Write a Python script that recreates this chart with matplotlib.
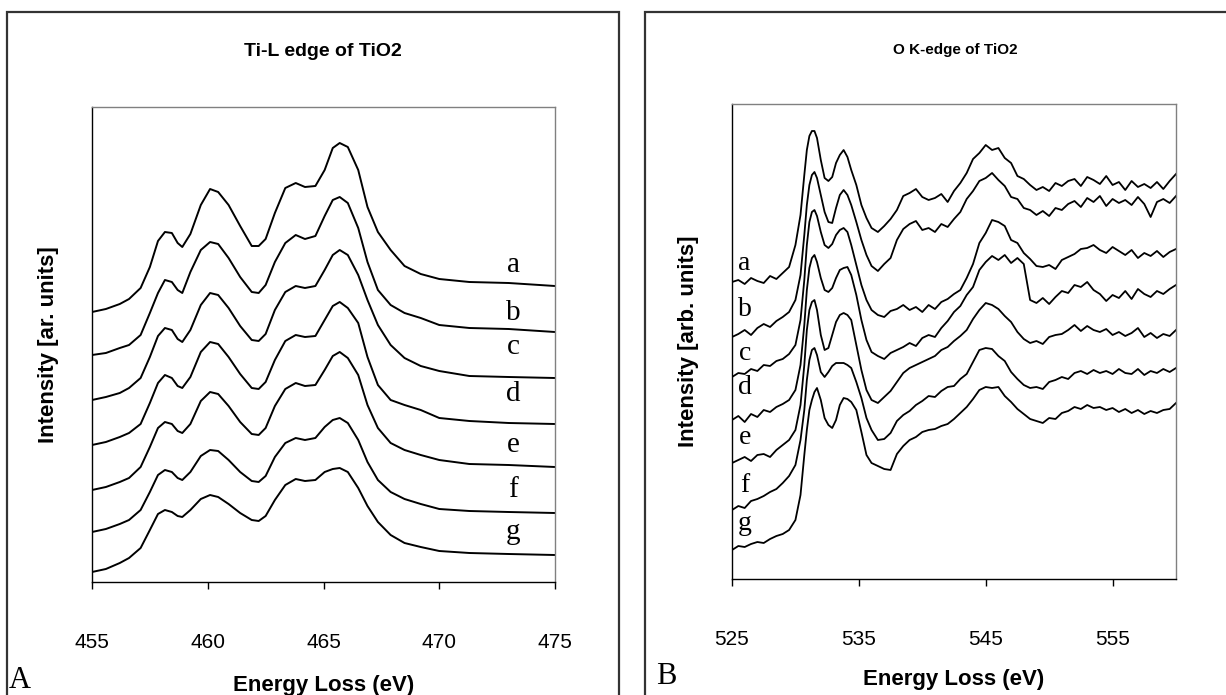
import numpy as np
import matplotlib
matplotlib.use("Agg")
import matplotlib.pyplot as plt
from matplotlib.patches import Rectangle

# ---- Ti-L edge (panel A) ----
ti_energy = [455.0, 455.6, 456.2, 456.6, 457.1, 457.5, 457.85, 458.15, 458.45, 458.7,
             458.9, 459.25, 459.7, 460.1, 460.45, 460.9, 461.4, 461.9, 462.2, 462.5,
             462.9, 463.35, 463.8, 464.2, 464.65, 465.05, 465.4, 465.7, 466.05, 466.5,
             466.9, 467.35, 467.9, 468.5, 469.2, 470.0, 471.3, 473.0, 475.0]

ti_a = [288, 291, 296, 301, 312, 333, 359, 368, 367, 357, 353, 366, 395, 411, 408, 395, 374, 354, 354, 361,
        387, 412, 417, 413, 414, 430, 452, 457, 453, 430, 393, 368, 350, 334, 326, 321, 318, 317, 314]
ti_b = [245, 247, 252, 255, 265, 287, 307, 320, 318, 310, 307, 328, 350, 358, 356, 342, 323, 308, 307, 315,
        338, 357, 365, 361, 364, 384, 400, 403, 397, 372, 338, 310, 295, 287, 282, 275, 272, 271, 268]
ti_c = [200, 203, 207, 212, 222, 243, 264, 272, 270, 261, 258, 270, 295, 307, 305, 292, 274, 260, 259, 266,
        290, 308, 314, 312, 314, 330, 345, 350, 345, 325, 300, 275, 255, 242, 234, 229, 224, 223, 222]
ti_d = [155, 158, 163, 167, 176, 197, 217, 225, 222, 214, 212, 223, 248, 258, 256, 243, 226, 212, 211, 218,
        240, 259, 265, 263, 264, 280, 294, 298, 292, 277, 243, 215, 200, 195, 190, 182, 179, 177, 176]
ti_e = [110, 113, 118, 122, 133, 153, 172, 178, 176, 169, 167, 176, 199, 208, 206, 194, 178, 166, 165, 172,
        194, 211, 217, 214, 215, 230, 244, 248, 242, 225, 195, 172, 157, 150, 145, 140, 136, 135, 133]
ti_f = [68, 71, 76, 80, 90, 108, 125, 130, 128, 122, 120, 128, 144, 150, 149, 140, 128, 119, 118, 124,
        143, 157, 162, 160, 162, 173, 180, 182, 177, 160, 138, 120, 108, 101, 96, 91, 89, 88, 87]
ti_g = [28, 31, 37, 42, 52, 70, 86, 90, 88, 84, 83, 90, 101, 105, 103, 96, 87, 80, 79, 84,
        100, 115, 121, 119, 120, 128, 131, 132, 128, 112, 94, 78, 65, 57, 53, 49, 47, 46, 45]

ti_curves = [ti_a, ti_b, ti_c, ti_d, ti_e, ti_f, ti_g]
curve_names = ["a", "b", "c", "d", "e", "f", "g"]
ti_label_y = [335, 287, 253, 206, 155, 110, 68]

# ---- O K-edge (panel B) ----
o_energy = [525.0, 525.5, 526.0, 526.5, 527.0, 527.5, 528.0, 528.5, 529.0, 529.5,
            530.0, 530.4, 530.7, 530.9, 531.1, 531.3, 531.5, 531.7, 532.0, 532.3,
            532.6, 532.9, 533.2, 533.5, 533.8, 534.1, 534.4, 534.8, 535.2, 535.6,
            536.0, 536.5, 537.0, 537.5, 538.0, 538.5, 539.0, 539.5, 540.0, 540.5,
            541.0, 541.5, 542.0, 542.5, 543.0, 543.5, 544.0, 544.5, 545.0, 545.5,
            546.0, 546.5, 547.0, 547.5, 548.0, 548.5, 549.0, 549.5, 550.0, 550.5,
            551.0, 551.5, 552.0, 552.5, 553.0, 553.5, 554.0, 554.5, 555.0, 555.5,
            556.0, 556.5, 557.0, 557.5, 558.0, 558.5, 559.0, 559.5, 560.0]

o_a = [318, 320, 316, 322, 319, 317, 324, 321, 327, 333,
       355, 385, 425, 450, 464, 469, 469, 462, 440, 422, 419, 423, 437, 445, 450, 443, 430, 415, 395, 382,
       372, 368, 374, 381, 390, 404, 407, 411, 403, 400, 402, 406, 398, 409, 417, 427, 441, 447, 455, 450,
       452, 442, 437, 424, 421, 415, 410, 413, 409, 417, 414, 419, 421, 414, 423, 420, 416, 424, 415, 418,
       410, 419, 413, 416, 412, 418, 411, 419, 426]
o_b = [263, 266, 270, 265, 272, 276, 273, 279, 283, 288,
       300, 325, 365, 395, 415, 425, 428, 422, 405, 388, 378, 377, 392, 405, 410, 405, 395, 378, 360, 345,
       334, 329, 336, 342, 360, 371, 376, 379, 370, 372, 368, 376, 373, 381, 388, 401, 409, 419, 422, 427,
       420, 414, 403, 401, 392, 390, 385, 389, 384, 392, 390, 396, 399, 393, 402, 398, 404, 394, 401, 397,
       400, 395, 403, 396, 383, 398, 401, 397, 404]
o_c = [223, 227, 226, 231, 229, 235, 234, 239, 241, 246,
       255, 280, 320, 355, 378, 388, 390, 384, 368, 355, 352, 356, 365, 370, 372, 368, 355, 335, 315, 300,
       290, 285, 283, 289, 291, 295, 290, 293, 288, 295, 291, 298, 301, 306, 310, 322, 336, 357, 367, 380,
       378, 374, 360, 357, 347, 341, 334, 333, 335, 331, 340, 343, 346, 351, 352, 355, 350, 347, 353, 349,
       345, 350, 342, 347, 344, 349, 343, 348, 351]
o_d = [180, 184, 178, 186, 183, 190, 188, 193, 196, 200,
       210, 235, 275, 310, 332, 342, 345, 338, 322, 310, 308, 312, 322, 330, 332, 333, 325, 305, 280, 260,
       248, 244, 241, 247, 250, 253, 257, 254, 262, 265, 263, 272, 279, 288, 294, 305, 313, 330, 338, 344,
       340, 345, 337, 342, 336, 300, 297, 302, 296, 303, 309, 307, 315, 313, 318, 310, 306, 299, 305, 302,
       309, 301, 311, 306, 303, 309, 306, 311, 315]
o_e = [137, 140, 143, 139, 145, 146, 143, 150, 155, 160,
       170, 195, 235, 270, 290, 298, 300, 290, 265, 250, 252, 265, 278, 285, 287, 285, 280, 255, 230, 210,
       200, 197, 203, 209, 218, 227, 232, 235, 238, 241, 244, 250, 253, 259, 264, 270, 281, 290, 297, 295,
       291, 284, 278, 268, 261, 257, 259, 256, 263, 265, 266, 270, 275, 269, 274, 270, 268, 271, 265, 268,
       264, 267, 272, 263, 267, 262, 266, 264, 270]
o_f = [90, 94, 92, 99, 101, 104, 108, 111, 117, 124,
       135, 160, 190, 220, 240, 250, 252, 245, 228, 223, 228, 234, 237, 237, 237, 235, 232, 218, 202, 182,
       170, 160, 161, 167, 179, 185, 189, 195, 199, 204, 203, 209, 213, 214, 221, 226, 238, 250, 252, 251,
       244, 239, 228, 221, 215, 212, 213, 211, 218, 220, 223, 221, 227, 229, 226, 230, 227, 229, 226, 231,
       227, 226, 231, 225, 229, 227, 231, 228, 232]
o_g = [50, 54, 53, 56, 58, 57, 61, 64, 66, 70,
       80, 105, 145, 170, 190, 200, 208, 212, 200, 182, 175, 172, 180, 195, 202, 201, 198, 190, 168, 145,
       137, 134, 131, 130, 146, 154, 160, 163, 168, 170, 171, 174, 176, 181, 187, 193, 201, 210, 213, 212,
       213, 204, 198, 191, 186, 181, 179, 177, 182, 181, 187, 189, 193, 191, 195, 192, 193, 190, 192, 188,
       191, 187, 190, 186, 189, 187, 190, 191, 197]

o_curves = [o_a, o_b, o_c, o_d, o_e, o_f, o_g]
o_label_y = [337, 290, 247, 213, 163, 115, 77]

W, H = 1226, 695
fig = plt.figure(figsize=(W / 100, H / 100), dpi=100)

# panel frames
for x0 in (7, 645):
    fig.patches.append(Rectangle((x0 / W, -0.05), 612 / W if x0 == 7 else 0.5, 1.05 - 12 / H,
                                 transform=fig.transFigure, fill=False,
                                 edgecolor="#333333", linewidth=1.6))


def style_axes(ax, ticks):
    for side in ("left", "bottom"):
        ax.spines[side].set_color("black")
        ax.spines[side].set_linewidth(1.0)
    for side in ("top", "right"):
        ax.spines[side].set_color("#808080")
        ax.spines[side].set_linewidth(1.0)
    ax.set_xticks(ticks)
    ax.set_yticks([])
    ax.tick_params(axis="x", direction="out", length=5, width=1.0, pad=32,
                   labelsize=15)
    for lab in ax.get_xticklabels():
        lab.set_fontfamily("Liberation Sans")


axA = fig.add_axes([92 / W, 1 - 582 / H, 463 / W, 475 / H])
for name, ys, ly in zip(curve_names, ti_curves, ti_label_y):
    axA.plot(ti_energy, ys, color="black", linewidth=1.4)
    axA.text(473.2, ly, name, family="Liberation Serif", fontsize=21,
             ha="center", va="center")
axA.set_xlim(455, 475)
axA.set_ylim(18, 493)
style_axes(axA, [455, 460, 465, 470, 475])
axA.set_xlabel("Energy Loss (eV)", fontsize=16, fontweight="bold",
               family="Liberation Sans", labelpad=16)
axA.set_ylabel("Intensity [ar. units]", fontsize=16, fontweight="bold",
               family="Liberation Sans", labelpad=24)

axB = fig.add_axes([732 / W, 1 - 579 / H, 444 / W, 475 / H])
for name, ys, ly in zip(curve_names, o_curves, o_label_y):
    axB.plot(o_energy, ys, color="black", linewidth=1.3)
    axB.text(526.0, ly, name, family="Liberation Serif", fontsize=20,
             ha="center", va="center")
axB.set_xlim(525, 560)
axB.set_ylim(21, 496)
style_axes(axB, [525, 535, 545, 555])
axB.set_xlabel("Energy Loss (eV)", fontsize=16, fontweight="bold",
               family="Liberation Sans", labelpad=14)
axB.set_ylabel("Intensity [arb. units]", fontsize=16, fontweight="bold",
               family="Liberation Sans", labelpad=24)

fig.text(323 / W, 1 - 52 / H, "Ti-L edge of TiO2", ha="center", va="center",
         fontsize=14, fontweight="bold", family="Liberation Sans")
fig.text(955 / W, 1 - 50 / H, "O K-edge of TiO2", ha="center", va="center",
         fontsize=11, fontweight="bold", family="Liberation Sans")
fig.text(20 / W, 1 - 680 / H, "A", ha="center", va="center",
         fontsize=22, family="Liberation Serif")
fig.text(666 / W, 1 - 676 / H, "B", ha="center", va="center",
         fontsize=22, family="Liberation Serif")

fig.savefig("out.png", dpi=100)
